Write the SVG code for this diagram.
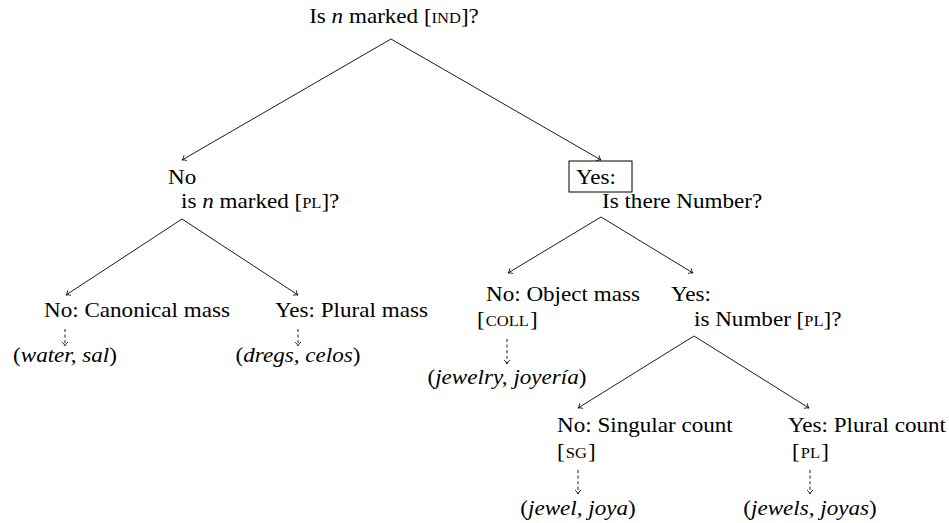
<svg xmlns="http://www.w3.org/2000/svg" width="949" height="523" viewBox="0 0 949 523">
  <style>
    text { font-family: "Liberation Serif", "Times New Roman", serif; font-size: 21px; fill: #000; }
    .it { font-style: italic; }
    .sc { font-size: 15px; }
    .mid { text-anchor: middle; }
    .edge { stroke: #000; stroke-width: 0.9; fill: none; marker-end: url(#to); }
    .dash { stroke-dasharray: 3 2.6; }
    .box { stroke: #000; stroke-width: 1; fill: none; }
  </style>
  <defs>
    <marker id="to" viewBox="-5 -4 6 8" markerWidth="6" markerHeight="8" refX="0" refY="0" orient="auto" markerUnits="userSpaceOnUse">
      <path d="M-4,-3 C-2.5,-1.2 -1,-0.4 0,0 C-1,0.4 -2.5,1.2 -4,3" stroke="#000" stroke-width="0.8" fill="none"/>
    </marker>
  </defs>

  <!-- connectors -->
  <g id="connectors">
    <line class="edge" x1="391" y1="39" x2="182" y2="160"/>
    <line class="edge" x1="391" y1="39" x2="601" y2="160"/>
    <line class="edge" x1="182" y1="219" x2="66" y2="295"/>
    <line class="edge" x1="182" y1="219" x2="298" y2="295"/>
    <line class="edge" x1="601" y1="217" x2="508" y2="273"/>
    <line class="edge" x1="601" y1="217" x2="693" y2="273"/>
    <line class="edge" x1="694" y1="336" x2="578" y2="408"/>
    <line class="edge" x1="694" y1="336" x2="809" y2="408"/>
    <line class="edge dash" x1="65" y1="329" x2="65" y2="346"/>
    <line class="edge dash" x1="298" y1="329" x2="298" y2="346"/>
    <line class="edge dash" x1="507" y1="339" x2="507" y2="364"/>
    <line class="edge dash" x1="578" y1="470" x2="578" y2="494"/>
    <line class="edge dash" x1="810" y1="470" x2="810" y2="494"/>
  </g>

  <g id="root">
    <text class="mid" transform="translate(394 23) scale(1.1 1)">Is <tspan class="it">n</tspan> marked [<tspan class="sc">IND</tspan>]?</text>
  </g>

  <g id="no-pl">
    <text transform="translate(168 184) scale(1.1 1)">No</text>
    <text transform="translate(181 208) scale(1.1 1)">is <tspan class="it">n</tspan> marked [<tspan class="sc">PL</tspan>]?</text>
  </g>

  <g id="yes-number">
    <rect class="box" x="569" y="161" width="63" height="31"/>
    <text transform="translate(576 184) scale(1.1 1)">Yes:</text>
    <text transform="translate(602 208) scale(1.1 1)">Is there Number?</text>
  </g>

  <g id="canonical-mass">
    <text transform="translate(44 317) scale(1.1 1)">No:  Canonical mass</text>
  </g>
  <g id="water-sal">
    <text class="mid" transform="translate(65 362) scale(1.1 1)">(<tspan class="it">water, sal</tspan>)</text>
  </g>

  <g id="plural-mass">
    <text transform="translate(275 317) scale(1.1 1)">Yes: Plural mass</text>
  </g>
  <g id="dregs-celos">
    <text class="mid" transform="translate(298 362) scale(1.1 1)">(<tspan class="it">dregs, celos</tspan>)</text>
  </g>

  <g id="object-mass">
    <text transform="translate(486 301) scale(1.1 1)">No: Object mass</text>
    <text transform="translate(477 326) scale(1.1 1)">[<tspan class="sc" dx="1">COLL</tspan><tspan dx="1">]</tspan></text>
  </g>
  <g id="jewelry-joyeria">
    <text class="mid" transform="translate(507 384) scale(1.1 1)">(<tspan class="it">jewelry, joyería</tspan>)</text>
  </g>

  <g id="yes-number-pl">
    <text transform="translate(671 301) scale(1.1 1)">Yes:</text>
    <text transform="translate(694 326) scale(1.1 1)">is Number [<tspan class="sc">PL</tspan>]?</text>
  </g>

  <g id="singular-count">
    <text transform="translate(557 432) scale(1.1 1)">No: Singular count</text>
    <text transform="translate(557 458) scale(1.1 1)">[<tspan class="sc" dx="1">SG</tspan><tspan dx="1">]</tspan></text>
  </g>
  <g id="jewel-joya">
    <text class="mid" transform="translate(578 515) scale(1.1 1)">(<tspan class="it">jewel, joya</tspan>)</text>
  </g>

  <g id="plural-count">
    <text transform="translate(788 432) scale(1.1 1)">Yes: Plural count</text>
    <text transform="translate(792 458) scale(1.1 1)">[<tspan class="sc" dx="1">PL</tspan><tspan dx="1">]</tspan></text>
  </g>
  <g id="jewels-joyas">
    <text class="mid" transform="translate(810 515) scale(1.1 1)">(<tspan class="it">jewels, joyas</tspan>)</text>
  </g>
</svg>
